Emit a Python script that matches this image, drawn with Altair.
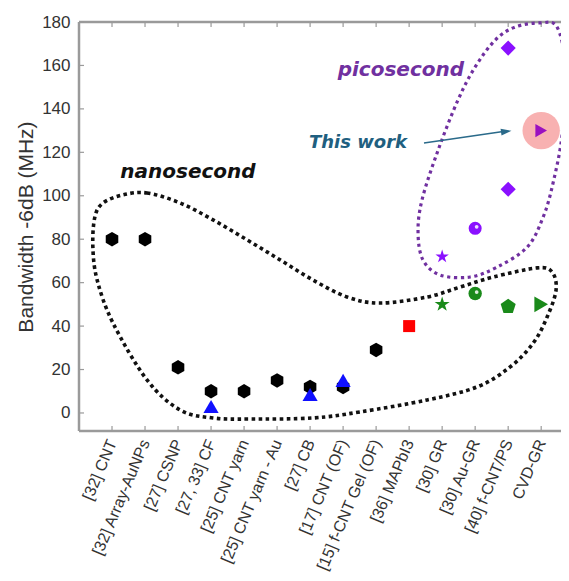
import json
import altair as alt
import pandas as pd

# ---------------- data ----------------
categories = ["[32] CNT", "[32] Array-AuNPs", "[27] CSNP", "[27, 33] CF", "[25] CNT yarn",
              "[25] CNT yarn - Au", "[27] CB", "[17] CNT (OF)", "[15] f-CNT Gel (OF)",
              "[36] MAPbI3", "[30] GR", "[30] Au-GR", "[40] f-CNT/PS", "CVD-GR"]
positions = list(range(1, 15))
y_ticks = [0, 20, 40, 60, 80, 100, 120, 140, 160, 180]

hex_pos = [1, 2, 3, 4, 5, 6, 7, 8, 9]
hex_val = [80, 80, 21, 10, 10, 15, 12, 12, 29]
blue_tri_pos = [4, 7, 8]
blue_tri_val = [3, 8.5, 15]
red_sq_pos = [10]
red_sq_val = [40]
green_star_pos = [11]
green_star_val = [50]
green_ball_pos = [12]
green_ball_val = [55]
green_pent_pos = [13]
green_pent_val = [49]
green_tri_pos = [14]
green_tri_val = [50]
purple_star_pos = [11]
purple_star_val = [72]
purple_ball_pos = [12]
purple_ball_val = [85]
purple_dia_pos = [13, 13]
purple_dia_val = [103, 168]
this_work_pos = [14]
this_work_val = [130]

# enclosing dotted outlines (data coordinates)
nano_x = [1.33, 2.06, 3.06, 4.06, 5.09, 6.09, 7.09, 8.12, 9.12, 10.55, 11.55, 12.55, 13.88, 14.33,
          14.45, 14.18, 13.76, 13.06, 12.06, 10.55, 8.52, 7.09, 5.18, 4.06, 3.06, 2.06, 1.03,
          0.55, 0.42, 0.48, 0.73]
nano_y = [100.4, 101.3, 96.7, 88.9, 79.7, 70.5, 61.2, 53.4, 50.6, 53.4, 58.0, 62.6, 66.8, 64.9,
          56.6, 44.2, 32.2, 21.2, 12.0, 6.0, 0.5, -2.3, -2.8, -2.3, 1.4, 15.2, 41.4,
          61.2, 76.4, 90.2, 96.7]
pico_x = [13.97, 14.48, 14.73, 14.64, 14.36, 14.06, 13.58, 12.67, 11.85, 10.94, 10.42, 10.27,
          10.39, 10.88, 11.48, 12.0, 12.61, 13.21]
pico_y = [179.6, 177.7, 159.3, 128.9, 105.9, 90.2, 76.4, 67.2, 62.6, 63.5, 70.4, 82.9,
          98.1, 121.1, 144.1, 159.3, 171.7, 177.7]

ann_text = ["picosecond", "nanosecond", "This work"]
ann_x = [9.75, 3.3, 8.45]
ann_y = [157.9, 111.0, 124.3]
ann_size = [20, 20, 18]
ann_color = ["#7030a0", "#111111", "#1f5f80"]

arrow_x = [10.45, 12.85]
arrow_y = [124.3, 129.6]

# ---------------- scales / axes ----------------
FONT = "Liberation Sans"
W, H = 482, 409
xscale = alt.Scale(domain=[0, 14.6], nice=False, zero=False)
yscale = alt.Scale(domain=[-8.3, 180], nice=False, zero=False)
label_expr = json.dumps(categories) + "[datum.value - 1]"
xaxis = alt.Axis(values=positions, labelExpr=label_expr, labelAngle=293, labelAlign="right",
                 labelBaseline="middle", labelFontSize=16, labelPadding=9, ticks=False,
                 domain=False, grid=False, title=None, labelColor="#333333", labelFont=FONT,
                 labelOverlap=False)
yaxis = alt.Axis(values=y_ticks, labelFontSize=17, labelPadding=9, ticks=False, domain=False,
                 grid=False, title="Bandwidth -6dB (MHz)", titleFontSize=21,
                 titleFontWeight="normal", titleColor="#333333", titlePadding=5,
                 labelColor="#333333", labelFont=FONT, titleFont=FONT)


def X(f):
    return alt.X(f, type="quantitative", scale=xscale, axis=xaxis)


def Y(f):
    return alt.Y(f, type="quantitative", scale=yscale, axis=yaxis)


def pts(xs, ys):
    return pd.DataFrame({"x": xs, "y": ys})


HEX = "M0,-1L0.866,-0.5L0.866,0.5L0,1L-0.866,0.5L-0.866,-0.5Z"
PENT = "M0,-1L0.951,-0.309L0.588,0.809L-0.588,0.809L-0.951,-0.309Z"
STAR = ("M0,-1L0.2245,-0.309L0.951,-0.309L0.3633,0.118L0.5878,0.809L0,0.382"
        "L-0.5878,0.809L-0.3633,0.118L-0.951,-0.309L-0.2245,-0.309Z")
HEAD = "M1,0L-1,-0.65L-1,0.65Z"

FRAME = "#9a9a9a"

layers = []

# frame (left, top, bottom) and inner ticks
tick_x_df = pd.DataFrame({"x": positions})
tick_y_df = pd.DataFrame({"y": y_ticks})
frame_df = pd.DataFrame({"k": [0]})
layers.append(alt.Chart(frame_df).mark_rule(color=FRAME, strokeWidth=2.5).encode(
    x=alt.value(0), y=alt.value(0), y2=alt.value(H)))
layers.append(alt.Chart(frame_df).mark_rule(color=FRAME, strokeWidth=2.5).encode(
    x=alt.value(0), x2=alt.value(W), y=alt.value(0)))
layers.append(alt.Chart(frame_df).mark_rule(color=FRAME, strokeWidth=2.5).encode(
    x=alt.value(0), x2=alt.value(W), y=alt.value(H)))
layers.append(alt.Chart(tick_x_df).mark_rule(color=FRAME, strokeWidth=1.2).encode(
    x=X("x"), y=alt.value(H - 5), y2=alt.value(H)))
layers.append(alt.Chart(tick_x_df).mark_rule(color=FRAME, strokeWidth=1.2).encode(
    x=X("x"), y=alt.value(0), y2=alt.value(5)))
layers.append(alt.Chart(tick_y_df).mark_rule(color=FRAME, strokeWidth=1.2).encode(
    y=Y("y"), x=alt.value(0), x2=alt.value(5)))

# dotted outlines
nano_df = pd.DataFrame({"x": nano_x, "y": nano_y, "o": list(range(len(nano_x)))})
pico_df = pd.DataFrame({"x": pico_x, "y": pico_y, "o": list(range(len(pico_x)))})
layers.append(alt.Chart(nano_df).mark_line(
    interpolate="cardinal-closed", color="#111111", strokeWidth=3.6,
    strokeDash=[3.6, 3.4], strokeCap="butt", clip=False).encode(
    x=X("x"), y=Y("y"), order=alt.Order("o:Q")))
layers.append(alt.Chart(pico_df).mark_line(
    interpolate="cardinal-closed", color="#7030a0", strokeWidth=3.2,
    strokeDash=[3.2, 3.6], strokeCap="butt", clip=False).encode(
    x=X("x"), y=Y("y"), order=alt.Order("o:Q")))

# highlight behind "this work"
layers.append(alt.Chart(pts(this_work_pos, this_work_val)).mark_point(
    shape="circle", filled=True, size=1400, color="#f7a8a8", opacity=0.9).encode(
    x=X("x"), y=Y("y")))


def sym(xs, ys, shape, size, color):
    return alt.Chart(pts(xs, ys)).mark_point(
        shape=shape, filled=True, size=size, color=color, opacity=1, strokeWidth=0).encode(
        x=X("x"), y=Y("y"))


layers.append(sym(hex_pos, hex_val, HEX, 210, "#000000"))
layers.append(sym(blue_tri_pos, blue_tri_val, "triangle-up", 230, "#1010ff"))
layers.append(sym(red_sq_pos, red_sq_val, "square", 144, "#ff0000"))
layers.append(sym(green_star_pos, green_star_val, STAR, 250, "#1a8a1a"))
layers.append(sym(green_ball_pos, green_ball_val, "circle", 180, "#1a8a1a"))
layers.append(sym(green_pent_pos, green_pent_val, PENT, 250, "#1a8a1a"))
layers.append(sym(green_tri_pos, green_tri_val, "triangle-right", 250, "#1a8a1a"))
layers.append(sym(purple_star_pos, purple_star_val, STAR, 200, "#8a10ff"))
layers.append(sym(purple_ball_pos, purple_ball_val, "circle", 170, "#8a10ff"))
layers.append(sym(purple_dia_pos, purple_dia_val, "diamond", 230, "#8a10ff"))
layers.append(sym(this_work_pos, this_work_val, "triangle-right", 180, "#9a10c0"))

# specular highlights on the spheres
for bx, by in [(green_ball_pos, green_ball_val), (purple_ball_pos, purple_ball_val)]:
    layers.append(alt.Chart(pts(bx, by)).mark_point(
        shape="circle", filled=True, size=14, color="#ffffff", opacity=0.85,
        xOffset=1.5, yOffset=-1.5).encode(x=X("x"), y=Y("y")))

# arrow
arrow_df = pd.DataFrame({"x": arrow_x, "y": arrow_y, "o": [0, 1]})
layers.append(alt.Chart(arrow_df).mark_line(color="#2a6a8a", strokeWidth=1.6).encode(
    x=X("x"), y=Y("y"), order=alt.Order("o:Q")))
layers.append(alt.Chart(pts(arrow_x[1:], arrow_y[1:])).mark_point(
    shape=HEAD, filled=True, size=110, color="#2a6a8a", opacity=1, angle=352, xOffset=3).encode(
    x=X("x"), y=Y("y")))

# annotations
ann_df = pd.DataFrame({"x": ann_x, "y": ann_y, "t": ann_text, "c": ann_color, "s": ann_size})
layers.append(alt.Chart(ann_df).mark_text(
    font="DejaVu Sans", fontWeight="bold", fontStyle="italic").encode(
    x=X("x"), y=Y("y"), text="t:N", color=alt.Color("c:N", scale=None),
    size=alt.Size("s:Q", scale=None)))

chart = alt.layer(*layers).properties(
    width=W, height=H,
    padding={"left": 71, "top": 14, "right": 0, "bottom": 142},
    autosize=alt.AutoSizeParams(type="none"),
).configure_view(stroke=None).configure(font=FONT)

chart.save("out.html", embed_options={"renderer": "svg", "actions": False})
